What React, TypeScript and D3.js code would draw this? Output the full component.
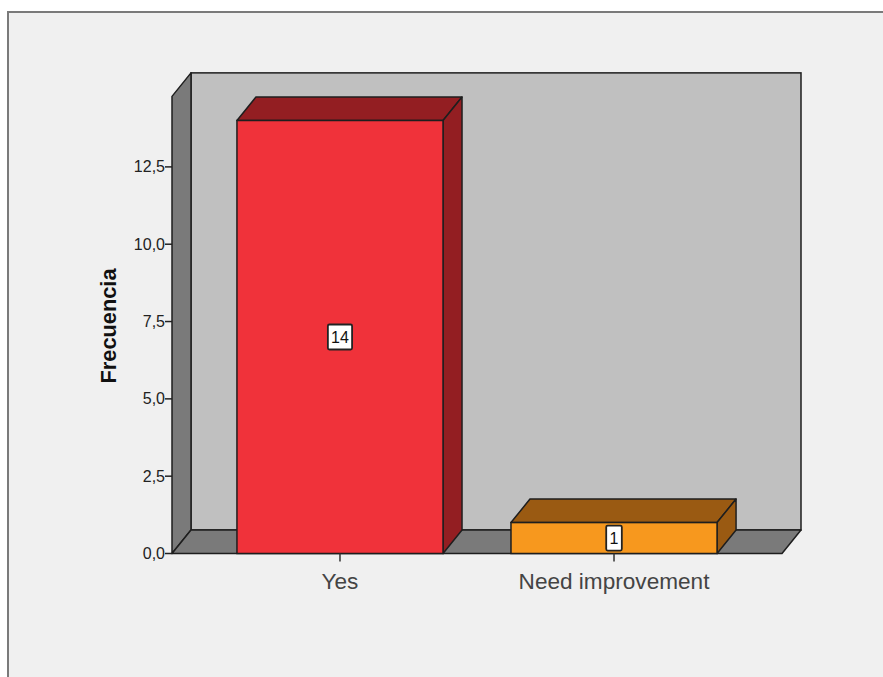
import React from "react";
import * as d3 from "d3";

const categories = ["Yes", "Need improvement"];
const counts = [14, 1];
const yTicks = [0, 2.5, 5, 7.5, 10, 12.5];
const frontColors = ["#F0323A", "#F7981E"];
const darkColors = ["#931E22", "#9A5A12"];
const yTitle = "Frecuencia";
const wallTopValue = 14.78;

const W = 883;
const H = 677;
const x0 = 172;
const x1 = 782;
const yBase = 553.5;
const DX = 19;
const DY = 23.5;

export default function App() {
  const y = d3.scaleLinear().domain([0, 14]).range([yBase, 120.5]);
  const x = d3
    .scaleBand<string>()
    .domain(categories)
    .range([x0, x1])
    .paddingInner(0.248)
    .paddingOuter(0.237);
  const fmt = (v: number) => d3.format(".1f")(v).replace(".", ",");
  const wallTop = y(wallTopValue);
  const stroke = "#1e1e1e";

  return (
    <svg
      width={W}
      height={H}
      style={{ position: "absolute", left: 0, top: 0, fontFamily: "Liberation Sans, Arial, sans-serif" }}
    >
      <rect x={0} y={0} width={W} height={H} fill="#ffffff" />
      <rect x={8} y={12} width={W + 20} height={H + 20} fill="#F0F0F0" stroke="#7a7a7a" strokeWidth={2} />

      {/* back wall */}
      <rect x={x0 + DX} y={wallTop - DY} width={x1 - x0} height={yBase - wallTop} fill="#C0C0C0" stroke={stroke} strokeWidth={1.5} />
      {/* left wall */}
      <polygon
        points={`${x0},${wallTop} ${x0 + DX},${wallTop - DY} ${x0 + DX},${yBase - DY} ${x0},${yBase}`}
        fill="#7A7A7A"
        stroke={stroke}
        strokeWidth={1.5}
        strokeLinejoin="round"
      />
      {/* floor */}
      <polygon
        points={`${x0},${yBase} ${x0 + DX},${yBase - DY} ${x1 + DX},${yBase - DY} ${x1},${yBase}`}
        fill="#7A7A7A"
        stroke={stroke}
        strokeWidth={1.5}
        strokeLinejoin="round"
      />

      {/* y axis ticks */}
      {yTicks.map((t) => (
        <g key={t}>
          <line x1={x0 - 7} x2={x0} y1={y(t)} y2={y(t)} stroke="#222" strokeWidth={1.5} />
          <text x={x0 - 7} y={y(t)} dy="0.35em" textAnchor="end" fontSize={16} fill="#222">
            {fmt(t)}
          </text>
        </g>
      ))}

      {/* bars */}
      {categories.map((c, i) => {
        const bx0 = x(c)!;
        const bx1 = bx0 + x.bandwidth();
        const top = y(counts[i]);
        return (
          <g key={c}>
            <polygon
              points={`${bx0},${top} ${bx0 + DX},${top - DY} ${bx1 + DX},${top - DY} ${bx1},${top}`}
              fill={darkColors[i]}
              stroke={stroke}
              strokeWidth={1.5}
              strokeLinejoin="round"
            />
            <polygon
              points={`${bx1},${top} ${bx1 + DX},${top - DY} ${bx1 + DX},${yBase - DY} ${bx1},${yBase}`}
              fill={darkColors[i]}
              stroke={stroke}
              strokeWidth={1.5}
              strokeLinejoin="round"
            />
            <rect x={bx0} y={top} width={bx1 - bx0} height={yBase - top} fill={frontColors[i]} stroke={stroke} strokeWidth={1.5} />
          </g>
        );
      })}

      {/* value labels */}
      {categories.map((c, i) => {
        const cx = x(c)! + x.bandwidth() / 2;
        const cy = y(counts[i] / 2);
        const label = String(counts[i]);
        const w = label.length * 8.6 + 7;
        const h = 25;
        return (
          <g key={c + "-lbl"}>
            <rect x={cx - w / 2} y={cy - h / 2} width={w} height={h} fill="#ffffff" stroke="#222" strokeWidth={1.8} rx={1.5} />
            <text x={cx} y={cy} dy="0.36em" textAnchor="middle" fontSize={16} fill="#111">
              {label}
            </text>
          </g>
        );
      })}

      {/* x axis ticks and labels */}
      {categories.map((c) => {
        const cx = x(c)! + x.bandwidth() / 2;
        return (
          <g key={c + "-x"}>
            <line x1={cx} x2={cx} y1={yBase} y2={yBase + 8} stroke="#333" strokeWidth={1.5} />
            <text x={cx} y={589} textAnchor="middle" fontSize={22.6} fill="#444">
              {c}
            </text>
          </g>
        );
      })}

      {/* y title */}
      <text
        transform={`translate(116,326) rotate(-90)`}
        textAnchor="middle"
        fontSize={22}
        fontWeight="bold"
        fill="#111"
        textLength={115}
        lengthAdjust="spacingAndGlyphs"
      >
        {yTitle}
      </text>
    </svg>
  );
}
